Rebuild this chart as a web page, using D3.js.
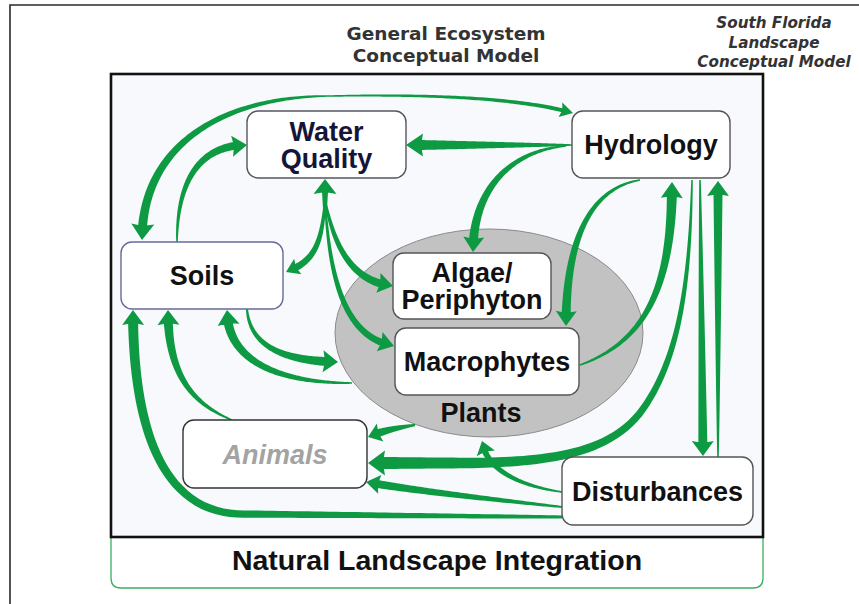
<!DOCTYPE html>
<html>
<head>
<meta charset="utf-8">
<title>General Ecosystem Conceptual Model</title>
<script src="https://cdn.jsdelivr.net/npm/d3@7"></script>
<style>
  body { margin: 0; background: #fff; }
  svg { display: block; }
  .box-label { font-family: "Liberation Sans", Arial, sans-serif; font-weight: bold; font-size: 27px; text-anchor: middle; }
  .title { font-family: "DejaVu Sans", Verdana, sans-serif; font-weight: bold; text-anchor: middle; fill: #333; }
</style>
</head>
<body>
<div id="chart"></div>
<script>
// --- diagram content ---
var titleLines = ["General Ecosystem", "Conceptual Model"];
var sideTitleLines = ["South Florida", "Landscape", "Conceptual Model"];
var footerLabel = "Natural Landscape Integration";
var plantsLabel = "Plants";

var nodes = [
  {id: "wq", lines: ["Water", "Quality"]},
  {id: "hyd", lines: ["Hydrology"]},
  {id: "soils", lines: ["Soils"]},
  {id: "algae", lines: ["Algae/", "Periphyton"]},
  {id: "macro", lines: ["Macrophytes"]},
  {id: "animals", lines: ["Animals"]},
  {id: "dist", lines: ["Disturbances"]}
];

// source -> target influences
var links = [
  ["top", "soils"], ["top", "hyd"],
  ["soils", "wq"], ["hyd", "wq"], ["hyd", "algae"],
  ["fan", "wq"], ["wq", "soils"], ["wq", "algae"], ["wq", "macro"],
  ["soils", "plants"], ["plants", "soils"], ["animals", "soils"], ["dist", "soils"],
  ["plants", "animals"], ["hyd", "animals"], ["dist", "plants"], ["dist", "animals"],
  ["macro", "hyd"], ["hyd", "macro"], ["hyd", "dist"], ["dist", "hyd"]
];

// --- layout (pixel geometry of the drawing) ---
var W = 859, H = 604;
var boxes = {
  wq:      {x: 247, y: 111, w: 159, h: 67, stroke: "#55555f", color: "#15153a"},
  hyd:     {x: 572, y: 111, w: 158, h: 67, stroke: "#555", color: "#111"},
  soils:   {x: 121, y: 242, w: 162, h: 67, stroke: "#6a6a9a", color: "#111"},
  algae:   {x: 393, y: 253, w: 158, h: 66, stroke: "#555", color: "#111"},
  macro:   {x: 395, y: 328, w: 184, h: 67, stroke: "#555", color: "#111"},
  animals: {x: 183, y: 420, w: 184, h: 68, stroke: "#333", color: "#a3a3a3", italic: true},
  dist:    {x: 562, y: 457, w: 191, h: 68, stroke: "#555", color: "#111"}
};
var plants = {cx: 489, cy: 333, rx: 154, ry: 104};

var routes = {
  "top>soils":      {d: "M330,96 C230,96 142,140 142,240", w: [1.5, 9], head: [16, 23]},
  "top>hyd":        {d: "M330,96 C430,94 520,98 573,113", w: [1.5, 4], head: [13, 15]},
  "soils>wq":       {d: "M177,242 C177,180 200,145 247,145", w: [1.5, 8], head: [15, 21]},
  "hyd>wq":         {d: "M572,145 L406,145", w: [1.5, 10], head: [17, 23]},
  "hyd>algae":      {d: "M566,146 C515,150 473,185 473,252", w: [1.5, 9], head: [15, 21]},
  "fan>wq":         {d: "M325,215 L325,179", w: [3, 6], head: [15, 23]},
  "wq>soils":       {d: "M325,200 C322,248 312,262 286,272", w: [2, 7], head: [13, 17]},
  "wq>algae":       {d: "M325,200 C335,252 355,282 393,286", w: [2, 8], head: [15, 20]},
  "wq>macro":       {d: "M325,200 C330,292 350,338 394,346", w: [1.5, 7], head: [15, 20]},
  "soils>plants":   {d: "M247,309 C250,350 290,361 338,362", w: [2, 9], head: [15, 22]},
  "plants>soils":   {d: "M352,383 C280,383 227,362 227,310", w: [1.5, 9], head: [15, 22]},
  "animals>soils":  {d: "M232,420 C188,402 168,370 168,310", w: [1.5, 9], head: [15, 22]},
  "dist>soils":     {d: "M562,517 L240,514 C168,512 133,440 133,310", w: [3, 10], head: [15, 22]},
  "plants>animals": {d: "M415,425 C396,428 382,431 368,437", w: [2, 8], head: [13, 19]},
  "hyd>animals":    {d: "M692,180 C690,280 680,360 640,413 C610,450 560,462 470,463 L368,463", w: [1.5, 12], head: [17, 25]},
  "dist>plants":    {d: "M562,492 C520,486 486,470 482,441", w: [1.5, 6], head: [13, 19]},
  "dist>animals":   {d: "M562,507 C480,498 410,490 366,482", w: [2, 8], head: [14, 19]},
  "macro>hyd":      {d: "M580,365 C650,340 672,280 672,182", w: [1.5, 10], head: [16, 22]},
  "hyd>macro":      {d: "M640,180 C580,190 566,260 566,326", w: [1.5, 9], head: [15, 21]},
  "hyd>dist":       {d: "M700,180 L703,456", w: [1.5, 9], head: [15, 22]},
  "dist>hyd":       {d: "M718,457 L718,181", w: [1.5, 9], head: [15, 22]}
};

var green = "#0e9a43";

var svg = d3.select("#chart").append("svg")
  .attr("width", W).attr("height", H);

// outer frame (only top and left visible)
svg.append("path")
  .attr("d", "M10,604 L10,5 L859,5")
  .attr("fill", "none").attr("stroke", "#2a2a2a").attr("stroke-width", 1.6);

// footer panel
svg.append("path")
  .attr("d", "M111,537 L111,578 Q111,588 121,588 L753,588 Q763,588 763,578 L763,537")
  .attr("fill", "#fff").attr("stroke", "#3aae62").attr("stroke-width", 1.3);
svg.append("text").attr("class", "box-label")
  .attr("x", 437).attr("y", 570)
  .style("font-size", "28.5px")
  .attr("fill", "#111")
  .text(footerLabel);

// main panel
svg.append("rect")
  .attr("x", 111).attr("y", 74).attr("width", 652).attr("height", 463)
  .attr("fill", "#f7f9fc").attr("stroke", "#111").attr("stroke-width", 2.6);

// titles
svg.selectAll("text.main-title").data(titleLines).join("text")
  .attr("class", "title main-title")
  .attr("x", 446).attr("y", function(d, i) { return 40 + i * 22; })
  .attr("font-size", 18.5)
  .text(function(d) { return d; });

svg.selectAll("text.side-title").data(sideTitleLines).join("text")
  .attr("class", "title side-title")
  .attr("x", 774).attr("y", function(d, i) { return 28 + i * 19.5; })
  .attr("font-size", 15.2).attr("font-style", "italic")
  .attr("fill", "#222")
  .text(function(d) { return d; });

// plants ellipse
svg.append("ellipse")
  .attr("cx", plants.cx).attr("cy", plants.cy)
  .attr("rx", plants.rx).attr("ry", plants.ry)
  .attr("fill", "#c2c2c2").attr("stroke", "#8a8a8a").attr("stroke-width", 1);
svg.append("text").attr("class", "box-label")
  .attr("x", plants.cx - 8).attr("y", 422)
  .attr("fill", "#111")
  .text(plantsLabel);

// tapered arrow: body widens from w0 to w1 along the path, then a triangle head
var probe = svg.append("path").attr("fill", "none").attr("stroke", "none");

function taperedArrow(d, w, head) {
  var p = probe.attr("d", d).node();
  var L = p.getTotalLength();
  var hl = head[0], hw = head[1];
  var body = L - hl * 0.85;
  var n = 80, left = [], right = [];
  for (var i = 0; i <= n; i++) {
    var s = body * i / n;
    var a = p.getPointAtLength(Math.max(s - 0.6, 0));
    var b = p.getPointAtLength(Math.min(s + 0.6, L));
    var c = p.getPointAtLength(s);
    var tx = b.x - a.x, ty = b.y - a.y, len = Math.hypot(tx, ty) || 1;
    var nx = -ty / len, ny = tx / len;
    var t = s / body;
    var hwid = (w[0] + (w[1] - w[0]) * Math.pow(t, 0.85)) / 2;
    left.push([c.x + nx * hwid, c.y + ny * hwid]);
    right.push([c.x - nx * hwid, c.y - ny * hwid]);
  }
  var tip = p.getPointAtLength(L);
  var base = p.getPointAtLength(L - hl);
  var dx = tip.x - base.x, dy = tip.y - base.y, dl = Math.hypot(dx, dy) || 1;
  var ux = dx / dl, uy = dy / dl;
  var hx = -uy * hw / 2, hy = ux * hw / 2;
  var line = d3.line();
  var bodyPath = line(left.concat(right.reverse())) + "Z";
  var headPath = "M" + (base.x + hx) + "," + (base.y + hy) +
    "L" + tip.x + "," + tip.y +
    "L" + (base.x - hx) + "," + (base.y - hy) +
    "L" + (base.x + ux * 2) + "," + (base.y + uy * 2) + "Z";
  return bodyPath + headPath;
}

var arrowData = links.map(function(l) {
  return Object.assign({key: l[0] + ">" + l[1]}, routes[l[0] + ">" + l[1]]);
});

svg.append("g").attr("class", "arrows")
  .selectAll("path").data(arrowData).join("path")
  .attr("d", function(r) { return taperedArrow(r.d, r.w, r.head); })
  .attr("fill", green);

probe.remove();

// boxes
var g = svg.append("g").attr("class", "nodes")
  .selectAll("g").data(nodes).join("g")
  .attr("transform", function(n) { var b = boxes[n.id]; return "translate(" + b.x + "," + b.y + ")"; });

g.append("rect")
  .attr("width", function(n) { return boxes[n.id].w; })
  .attr("height", function(n) { return boxes[n.id].h; })
  .attr("rx", 11).attr("ry", 11)
  .attr("fill", "#fff")
  .attr("stroke", function(n) { return boxes[n.id].stroke; })
  .attr("stroke-width", 1.4);

g.each(function(n) {
  var b = boxes[n.id];
  var k = n.lines.length;
  var first = b.h / 2 + 9.5 - (k - 1) * 13.5;
  d3.select(this).selectAll("text").data(n.lines).join("text")
    .attr("class", "box-label")
    .attr("x", b.w / 2)
    .attr("y", function(d, i) { return first + i * 27; })
    .attr("fill", b.color)
    .attr("font-style", b.italic ? "italic" : null)
    .text(function(d) { return d; });
});
</script>
</body>
</html>
